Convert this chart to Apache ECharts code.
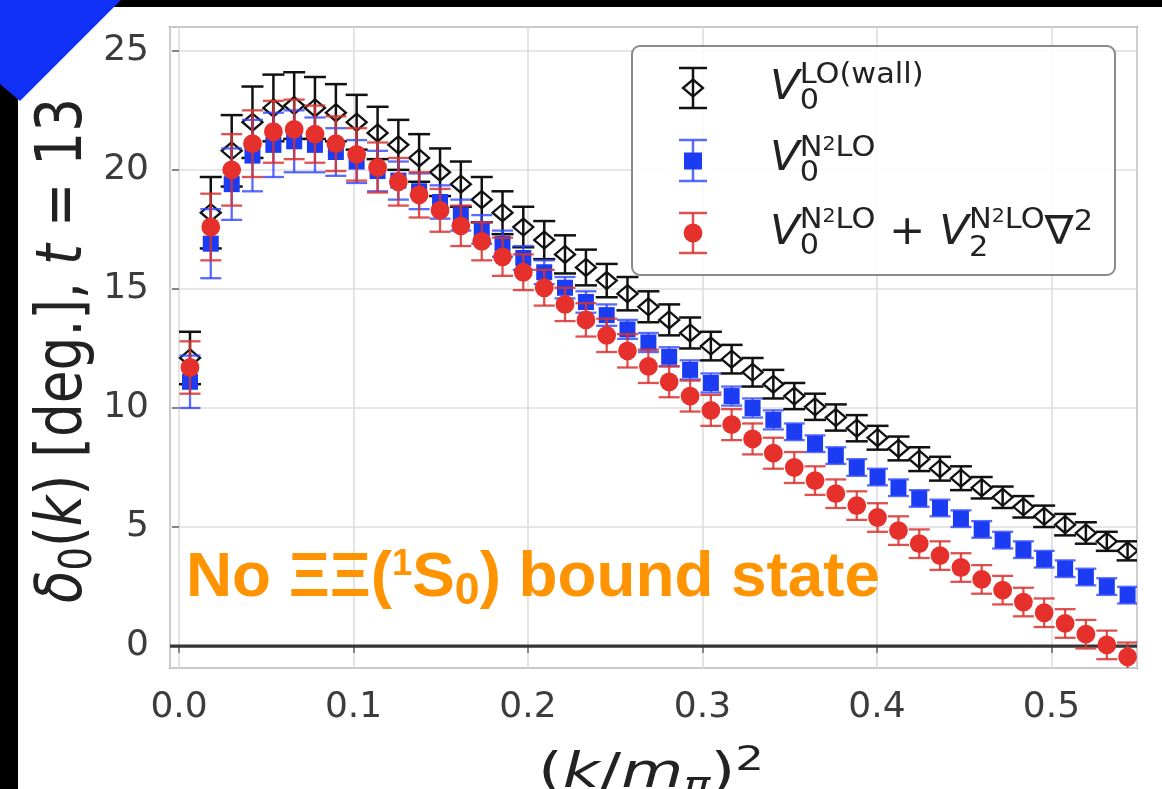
<!DOCTYPE html>
<html><head><meta charset="utf-8">
<script src="https://cdn.jsdelivr.net/npm/echarts@6/dist/echarts.min.js"></script>
<style>html,body{margin:0;padding:0;background:#fff;overflow:hidden}#c{width:1162px;height:789px}</style>
</head><body><div id="c"></div>
<script>
// ---- data ----
const k2 = [0.0063,0.0182,0.0302,0.0421,0.0541,0.0660,0.0779,0.0899,0.1018,0.1138,0.1257,0.1376,0.1496,0.1615,0.1735,0.1854,0.1973,0.2093,0.2212,0.2332,0.2451,0.2570,0.2690,0.2809,0.2929,0.3048,0.3167,0.3287,0.3406,0.3526,0.3645,0.3764,0.3884,0.4003,0.4123,0.4242,0.4361,0.4481,0.4600,0.4720,0.4839,0.4958,0.5078,0.5197,0.5317,0.5436];
const wallVal = [12.1,18.2,20.8,22.0,22.6,22.7,22.6,22.4,22.0,21.55,21.05,20.5,19.9,19.4,18.75,18.2,17.6,17.05,16.45,15.9,15.35,14.8,14.25,13.7,13.15,12.6,12.05,11.5,11.0,10.5,10.05,9.6,9.15,8.75,8.3,7.85,7.45,7.05,6.65,6.25,5.85,5.45,5.1,4.75,4.4,4.0];
const wallErr = [1.1,1.5,1.5,1.5,1.4,1.4,1.3,1.2,1.15,1.1,1.05,1.0,1.0,0.95,0.95,0.9,0.85,0.8,0.8,0.75,0.7,0.7,0.65,0.65,0.65,0.6,0.6,0.6,0.6,0.55,0.55,0.55,0.55,0.5,0.5,0.5,0.5,0.5,0.45,0.45,0.45,0.45,0.45,0.45,0.4,0.4];
const n2loVal = [11.1,16.9,19.4,20.6,21.05,21.2,21.05,20.75,20.35,19.95,19.55,19.1,18.65,18.1,17.5,16.9,16.3,15.7,15.05,14.45,13.9,13.3,12.75,12.15,11.6,11.05,10.5,10.0,9.5,9.0,8.5,8.0,7.5,7.1,6.65,6.2,5.8,5.35,4.9,4.45,4.05,3.65,3.25,2.9,2.5,2.14];
const n2loErr = [1.1,1.45,1.5,1.5,1.35,1.3,1.15,1.0,0.9,0.85,0.8,0.75,0.7,0.65,0.6,0.55,0.5,0.5,0.45,0.45,0.45,0.4,0.4,0.4,0.4,0.4,0.4,0.4,0.4,0.35,0.35,0.35,0.35,0.35,0.35,0.35,0.35,0.35,0.35,0.35,0.35,0.35,0.35,0.35,0.35,0.35];
const fullVal = [11.7,17.6,20.0,21.1,21.6,21.7,21.5,21.1,20.65,20.1,19.5,18.95,18.3,17.65,17.0,16.35,15.7,15.05,14.35,13.7,13.05,12.4,11.75,11.1,10.5,9.9,9.3,8.7,8.1,7.5,6.95,6.4,5.9,5.4,4.85,4.3,3.8,3.3,2.8,2.35,1.85,1.4,0.95,0.5,0.05,-0.45];
const fullErr = [1.1,1.4,1.5,1.4,1.3,1.25,1.2,1.15,1.1,1.05,1.0,0.95,0.9,0.85,0.8,0.8,0.75,0.75,0.7,0.7,0.7,0.7,0.7,0.65,0.65,0.65,0.65,0.65,0.65,0.65,0.6,0.6,0.6,0.6,0.6,0.6,0.6,0.6,0.6,0.6,0.6,0.6,0.6,0.6,0.6,0.6];
const xTicks = [0.0,0.1,0.2,0.3,0.4,0.5];
const yTicks = [0,5,10,15,20,25];
const xRange = [-0.00516, 0.549];
const yRange = [-0.92, 26.0];

// ---- text layout helpers ----
const mctx = document.createElement('canvas').getContext('2d');
function fnt(s){ return (s.it?'italic ':'normal ')+(s.b?'bold ':'normal ')+s.sz+'px "'+(s.ff||'DejaVu Sans')+'"'; }
function tw(s){ mctx.font = fnt(s); return mctx.measureText(s.t).width; }
function layoutSegs(segs){
  let x=0; const out=[];
  const put=(s,px)=>{ out.push({s:s,x:px}); return tw(s); };
  for(const s of segs){
    if(s.stack){ let w=0; for(const part of s.stack){ let px=x; for(const p of part){ px+=put(p,px);} w=Math.max(w,px-x);} x+=w; }
    else x+=put(s,x);
  }
  return {items:out,width:x};
}
function textGroup(segs, ox, oy, color, o){
  o=o||{};
  const L=layoutSegs(segs);
  const sx = o.fitW ? o.fitW/L.width : (o.sx||1);
  return {type:'group', x:ox, y:oy, rotation:o.rot||0, scaleX:sx, scaleY:o.sy||1, z:60, silent:true,
    children:L.items.map(it=>({type:'text', x:it.x, y:(it.s.dy||0)-0.346*it.s.sz, z:60, silent:true,
      style:{text:it.s.t, fontSize:it.s.sz, fontFamily:it.s.ff||'DejaVu Sans', fontStyle:it.s.it?'italic':'normal',
             fontWeight:it.s.b?'bold':'normal', fill:color, align:'left', verticalAlign:'middle', textAlign:'left', textVerticalAlign:'middle'}}))};
}

// ---- markers ----
const mk = {
  diamond:(p)=>({type:'polygon', shape:{points:[[p[0],p[1]-8.5],[p[0]+10,p[1]],[p[0],p[1]+8.5],[p[0]-10,p[1]]]}, style:{fill:'none',stroke:'#111',lineWidth:2.3}}),
  square:(p)=>({type:'rect', shape:{x:p[0]-8,y:p[1]-8,width:16,height:16}, style:{fill:'#1b3cf2'}}),
  circle:(p)=>({type:'circle', shape:{cx:p[0],cy:p[1],r:9.4}, style:{fill:'#e5302c'}})
};
function errSeries(name, vals, errs, cfg){
  return {
    type:'custom', name:name, clip:true, z:cfg.z, animation:false,
    data:k2.map((x,i)=>[x,vals[i],errs[i]]),
    encode:{x:0,y:1},
    renderItem:function(params, api){
      const x=api.value(0), y=api.value(1), e=api.value(2);
      const p=api.coord([x,y]), t=api.coord([x,y+e]), b=api.coord([x,y-e]);
      const hw=cfg.capW/2;
      const ls={stroke:cfg.bar, lineWidth:cfg.lw, opacity:cfg.op};
      return {type:'group', children:[
        {type:'line', shape:{x1:p[0],y1:t[1],x2:p[0],y2:b[1]}, style:ls},
        {type:'line', shape:{x1:p[0]-hw,y1:t[1],x2:p[0]+hw,y2:t[1]}, style:ls},
        {type:'line', shape:{x1:p[0]-hw,y1:b[1],x2:p[0]+hw,y2:b[1]}, style:ls},
        cfg.marker(p)
      ]};
    }
  };
}

const near=(v,arr)=>arr.some(a=>Math.abs(a-v)<1e-6);
const chart = echarts.init(document.getElementById('c'), null, {renderer:'canvas'});

// ---- texts ----
const yLabelSegs=[{t:'δ',sz:55,it:1},{t:'0',sz:38,dy:8},{t:'(',sz:55},{t:'k',sz:55,it:1},{t:')',sz:55},{t:' [deg.], ',sz:55},{t:'t',sz:55,it:1},{t:' = ',sz:55},{t:'13',sz:55}];
const xLabelSegs=[{t:'(',sz:48},{t:'k',sz:48,it:1},{t:'/',sz:48},{t:'m',sz:48,it:1},{t:'π',sz:34,it:1,dy:8},{t:')',sz:48},{t:'2',sz:34,dy:-18}];
const noteSegs=[{t:'No ΞΞ(',sz:63,b:1,ff:'Liberation Sans'},{t:'1',sz:36,b:1,ff:'Liberation Sans',dy:-22},{t:'S',sz:63,b:1,ff:'Liberation Sans'},{t:'0',sz:44,b:1,ff:'Liberation Sans',dy:7},{t:') bound state',sz:63,b:1,ff:'Liberation Sans'}];
const supN2LO=(d)=>[{t:'N',sz:28,dy:d},{t:'2',sz:19,dy:d-6},{t:'LO',sz:28,dy:d}];
const leg1=[{t:'V',sz:40,it:1},{stack:[[{t:'LO(wall)',sz:28,dy:-17}],[{t:'0',sz:28,dy:9}]]}];
const leg2=[{t:'V',sz:40,it:1},{stack:[supN2LO(-15),[{t:'0',sz:28,dy:10}]]}];
const leg3=[{t:'V',sz:40,it:1},{stack:[supN2LO(-17),[{t:'0',sz:28,dy:9}]]},{t:' + ',sz:40},{t:'V',sz:40,it:1},{stack:[supN2LO(-17),[{t:'2',sz:28,dy:11}]]},{t:'∇',sz:40},{t:'2',sz:28,dy:-15}];
const legSx = 323/layoutSegs(leg3).width;

const lineS=(x1,y1,x2,y2,c,op)=>({type:'line',z:55,silent:true,shape:{x1,y1,x2,y2},style:{stroke:c,lineWidth:2.5,opacity:op||1}});
const legendEls=[
  {type:'rect',z:50,silent:true,shape:{x:632,y:46,width:483,height:229,r:8},style:{fill:'rgba(255,255,255,0.85)',stroke:'#8a8a8a',lineWidth:2}},
  lineS(693,68,693,108,'#111'),lineS(679,68,707,68,'#111'),lineS(679,108,707,108,'#111'),
  {type:'polygon',z:56,silent:true,shape:{points:[[693,79.5],[703,88],[693,96.5],[683,88]]},style:{fill:'none',stroke:'#111',lineWidth:2.3}},
  lineS(693,140,693,181,'#2f45ff',0.8),lineS(679,140,707,140,'#2f45ff',0.8),lineS(679,181,707,181,'#2f45ff',0.8),
  {type:'rect',z:56,silent:true,shape:{x:684,y:152.5,width:18,height:17},style:{fill:'#1b3cf2'}},
  lineS(693,213,693,253,'#d8322f',0.85),lineS(679,213,707,213,'#d8322f',0.85),lineS(679,253,707,253,'#d8322f',0.85),
  {type:'circle',z:56,silent:true,shape:{cx:693,cy:233,r:9.4},style:{fill:'#e5302c'}},
  textGroup(leg1,770,102,'#222',{sx:legSx}),
  textGroup(leg2,770,173,'#222',{sx:legSx}),
  textGroup(leg3,770,247,'#222',{sx:legSx})
];

const option = {
  backgroundColor:'#ffffff',
  animation:false,
  grid:{left:170,right:25,top:27,bottom:121,show:true,backgroundColor:'#fff',borderColor:'#8c8c8c',borderWidth:2},
  xAxis:{type:'value',min:xRange[0],max:xRange[1],
    axisLine:{show:false},
    axisTick:{show:true,inside:false,length:7,lineStyle:{color:'#666',width:1.5}},
    axisLabel:{show:true,showMinLabel:false,showMaxLabel:false,margin:22,fontSize:36,fontFamily:'DejaVu Sans',color:'#3c3c3c',
      formatter:v=>near(v,xTicks)?v.toFixed(1):''},
    splitLine:{show:true,lineStyle:{color:'#dedede',width:1.6}}},
  yAxis:{type:'value',min:yRange[0],max:yRange[1],
    axisLine:{show:false},
    axisTick:{show:true,inside:false,length:7,lineStyle:{color:'#666',width:1.5}},
    axisLabel:{show:true,showMinLabel:false,showMaxLabel:false,margin:21,fontSize:36,fontFamily:'DejaVu Sans',color:'#3c3c3c',
      formatter:v=>near(v,yTicks)?String(Math.round(v)):''},
    splitLine:{show:true,lineStyle:{color:'#dedede',width:1.6}}},
  series:[
    {type:'line',name:'zero',data:[[xRange[0],0],[xRange[1],0]],symbol:'none',silent:true,z:1,
      lineStyle:{color:'#353535',width:3.2}},
    errSeries('wall',wallVal,wallErr,{z:2,bar:'#111',lw:2.5,op:1,capW:22,marker:mk.diamond}),
    errSeries('n2lo',n2loVal,n2loErr,{z:3,bar:'#2f45ff',lw:2.3,op:0.8,capW:21,marker:mk.square}),
    errSeries('full',fullVal,fullErr,{z:4,bar:'#d8322f',lw:2.3,op:0.85,capW:21,marker:mk.circle})
  ],
  graphic:{elements:[
    ...legendEls,
    textGroup(yLabelSegs,86,603,'#222',{rot:Math.PI/2,fitW:505,sy:1.15}),
    textGroup(xLabelSegs,538,791,'#222',{fitW:226}),
    textGroup(noteSegs,186,600,'#ff9300',{fitW:694}),
    {type:'rect',z:100,silent:true,shape:{x:0,y:0,width:1162,height:7},style:{fill:'#000'}},
    {type:'rect',z:100,silent:true,shape:{x:0,y:0,width:18,height:789},style:{fill:'#000'}},
    {type:'polygon',z:101,silent:true,shape:{points:[[0,0],[121,0],[20,101],[0,84]]},style:{fill:'#1030f8'}}
  ]}
};
chart.setOption(option);
</script>
</body></html>
